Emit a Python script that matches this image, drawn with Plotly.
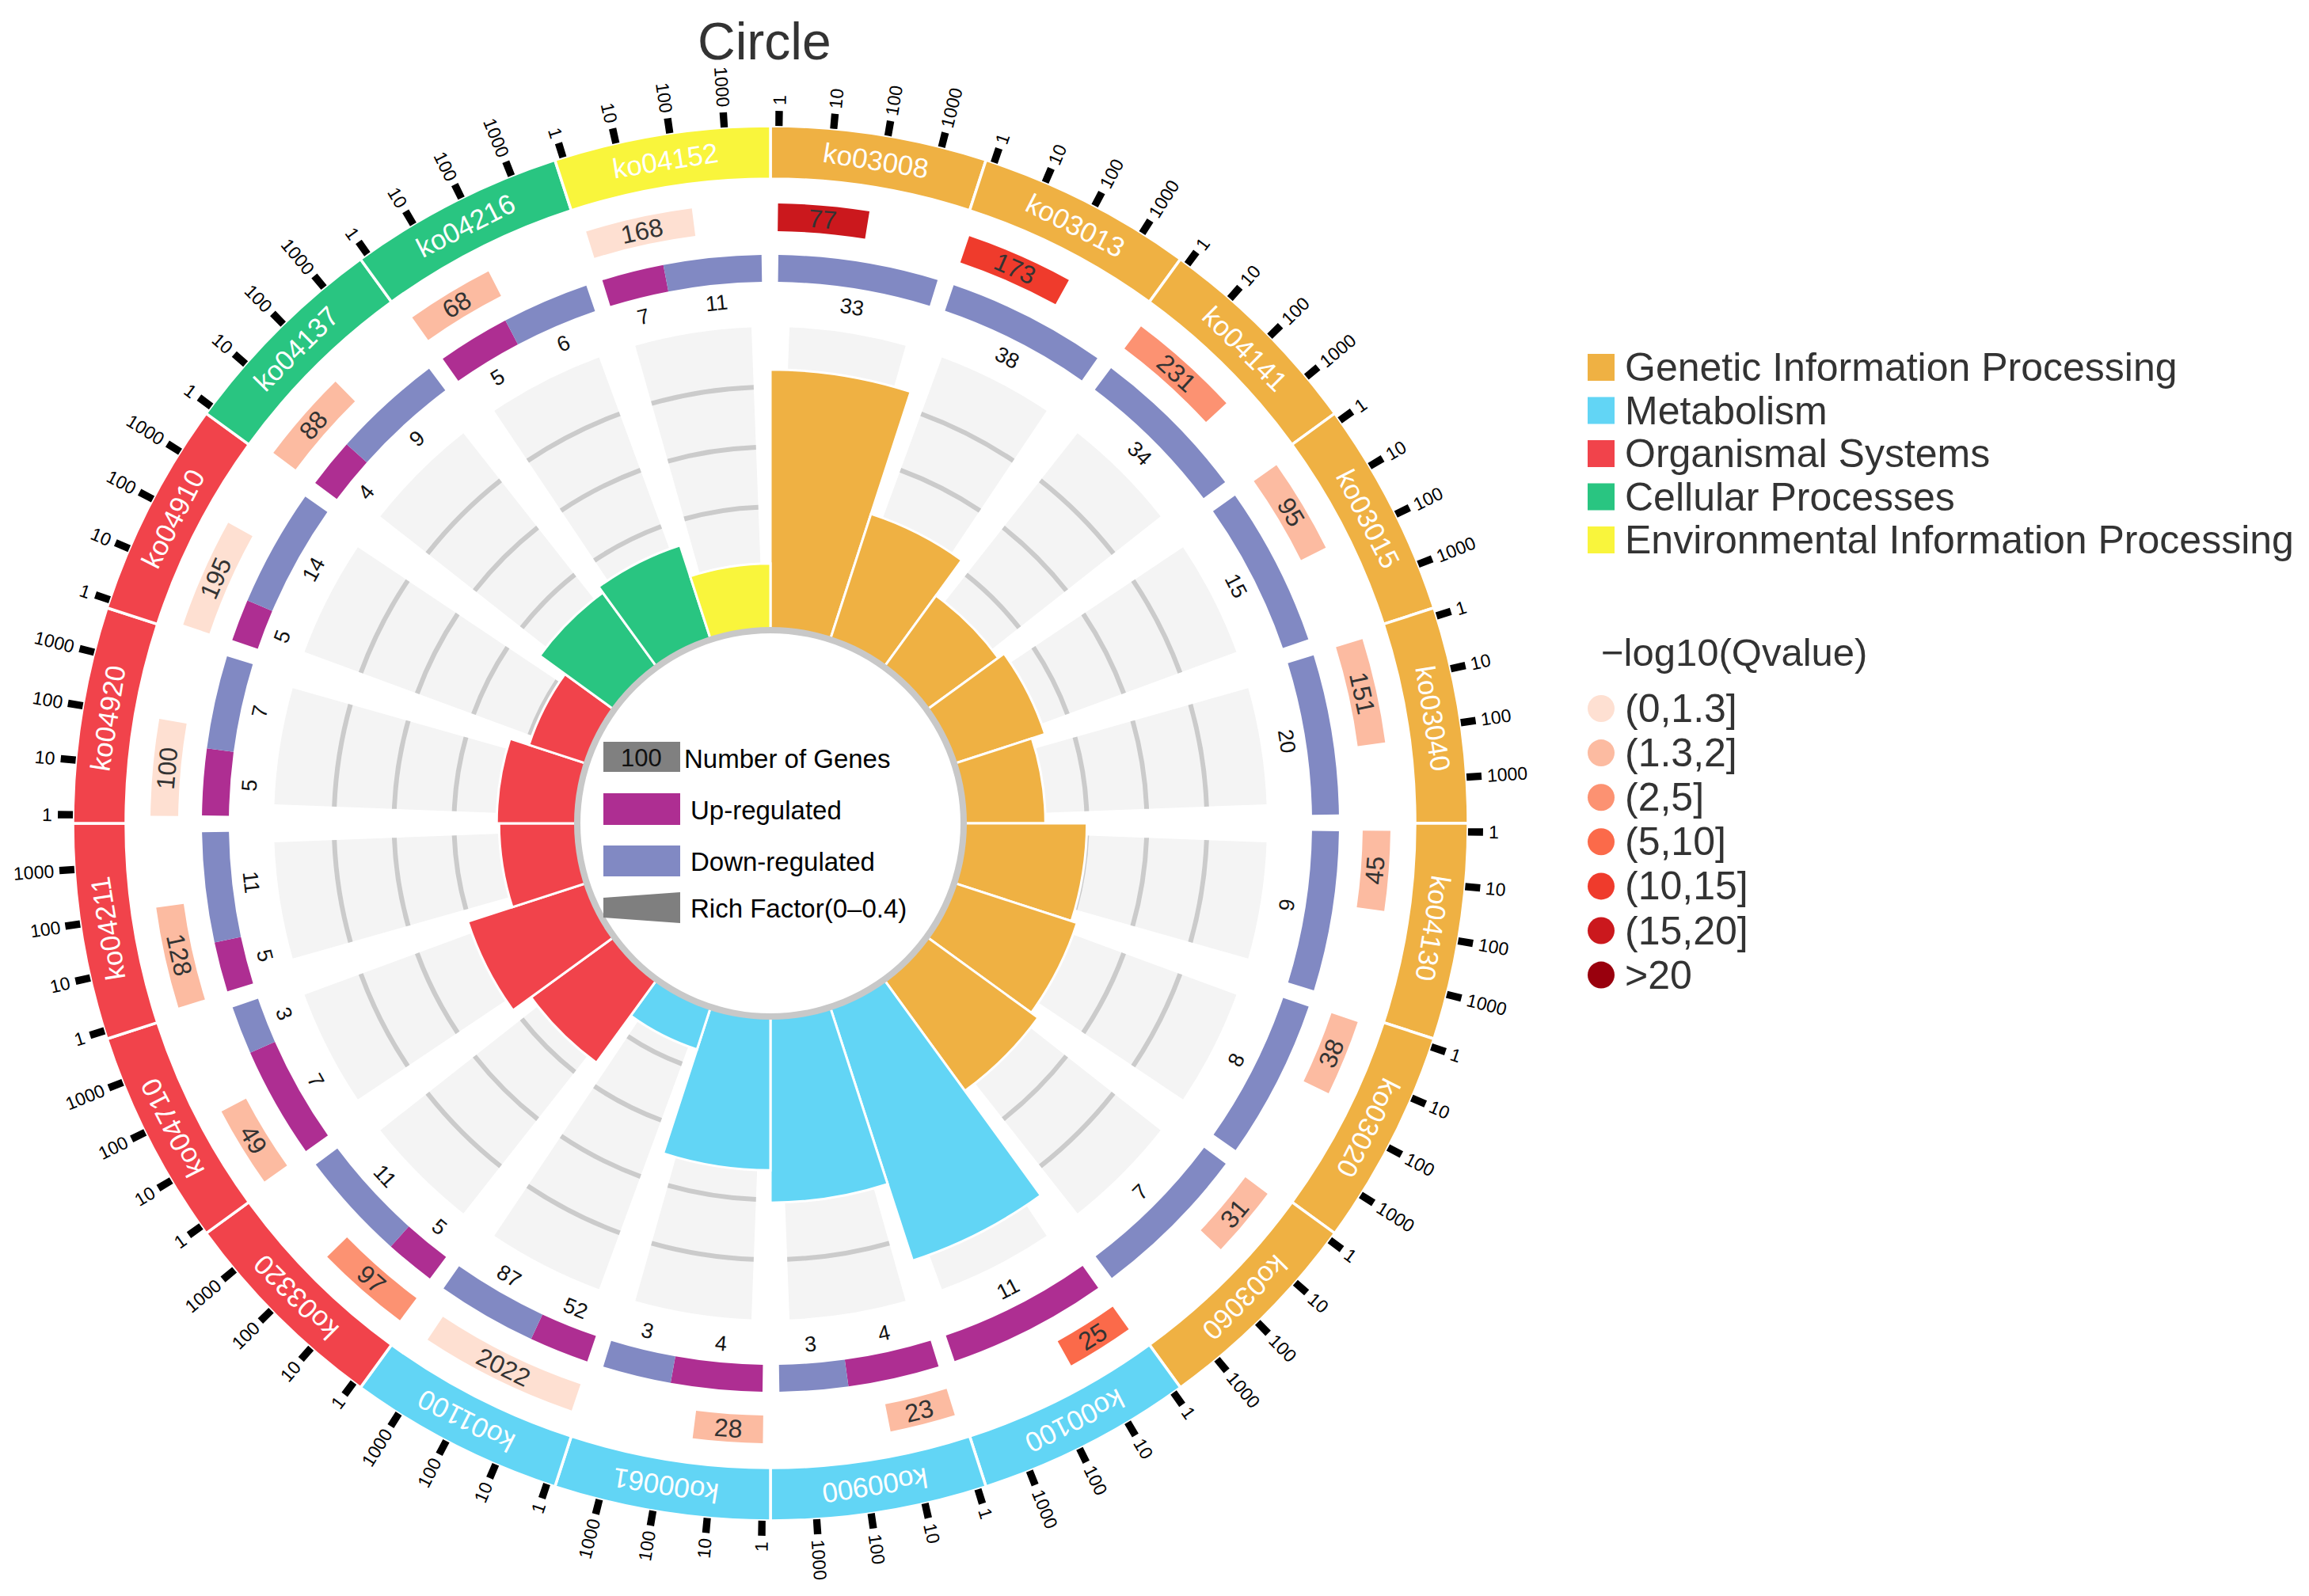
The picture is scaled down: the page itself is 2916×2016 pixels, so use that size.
import numpy as np
import plotly.graph_objects as go

# ---- data ----
KO = ["ko03008", "ko03013", "ko04141", "ko03015", "ko03040", "ko04130", "ko03020", "ko03060",
      "ko00100", "ko00900", "ko00061", "ko01100",
      "ko03320", "ko04710", "ko04211", "ko04920", "ko04910",
      "ko04137", "ko04216", "ko04152"]
CATEGORY = ["Genetic Information Processing"] * 8 + ["Metabolism"] * 4 + \
           ["Organismal Systems"] * 5 + ["Cellular Processes"] * 2 + \
           ["Environmental Information Processing"]
GENES = [77, 173, 231, 95, 151, 45, 38, 31, 25, 23, 28, 2022, 97, 49, 128, 100, 195, 88, 68, 168]
QBIN = ["(15,20]", "(10,15]", "(2,5]", "(1.3,2]", "(1.3,2]", "(1.3,2]", "(1.3,2]", "(1.3,2]",
        "(5,10]", "(1.3,2]", "(1.3,2]", "(0,1.3]",
        "(2,5]", "(1.3,2]", "(1.3,2]", "(0,1.3]", "(0,1.3]",
        "(1.3,2]", "(1.3,2]", "(0,1.3]"]
UP = [0, 0, 0, 0, 0, 0, 0, 0, 11, 4, 4, 52, 5, 7, 5, 5, 5, 4, 5, 7]
DOWN = [33, 38, 34, 15, 20, 9, 8, 7, 0, 3, 3, 87, 11, 3, 11, 7, 14, 9, 6, 11]
RICH = [0.429, 0.215, 0.142, 0.154, 0.131, 0.200, 0.210, 0.224,
        0.439, 0.305, 0.251, 0.069,
        0.166, 0.203, 0.125, 0.129, 0.096,
        0.148, 0.160, 0.106]

CAT_NAMES = ["Genetic Information Processing", "Metabolism", "Organismal Systems",
             "Cellular Processes", "Environmental Information Processing"]
CAT_COLORS = ["#EFB143", "#62D5F5", "#F1434B", "#29C581", "#F9F53C"]
QBINS = ["(0,1.3]", "(1.3,2]", "(2,5]", "(5,10]", "(10,15]", "(15,20]", ">20"]
QCOLORS = ["#FEE0D2", "#FCBBA1", "#FC9272", "#FB6A4A", "#EF3B2C", "#CB181D", "#99000D"]
TICKS = [1, 10, 100, 1000]
RICH_GRID = [0.1, 0.2, 0.3, 0.4]
UP_COLOR, DOWN_COLOR = "#AE2E92", "#8189C3"

# ---- geometry (page pixels) ----
W, H = 2916, 2016
OFF = 8  # default body margin of the html page
CX, CY, RMAX = 973, 1040, 940
SECTOR = 360 / len(KO)
R_CORE, RF_PX, RF_TOP = 248, 758, 0.5
UD_IN, UD_OUT = 684, 718
Q_IN, Q_OUT = 748, 783
KO_IN, KO_OUT = 814, 881
TICK_LEN, TICK_W = 19, 0.6
LOG0, DECADE = 0.7, 4.5
UD0, UD1 = 0.8, 17.1
BG_PAD = 2.2
FONT = "Liberation Sans, Arial, sans-serif"

cat_color = dict(zip(CAT_NAMES, CAT_COLORS))
q_color = dict(zip(QBINS, QCOLORS))
starts = np.arange(len(KO)) * SECTOR


def xy(r, theta):
    t = np.radians(theta)
    return CX + r * np.sin(t), CY - r * np.cos(t)


def tangent_angle(theta):
    a = theta % 360
    if 90 < a < 270:
        a -= 180
    elif a >= 270:
        a -= 360
    return a


def radial_angle(theta):
    a = (theta + 90) % 360
    if a > 180:
        a -= 360
    if a > 90:
        a -= 180
    elif a <= -90:
        a += 180
    return a


annotations = []


def label(x, y, text, size, color, angle=0, xanchor="center"):
    annotations.append(dict(x=x, y=y, xref="x", yref="y", text=text, showarrow=False,
                            textangle=angle, xanchor=xanchor, yanchor="middle",
                            font=dict(size=size, color=color, family=FONT)))


def ring(theta, width, base, length, color, line_w=0, line_c="white"):
    return go.Barpolar(theta=theta, width=width, base=base, r=length,
                       marker=dict(color=color, line=dict(color=line_c, width=line_w)),
                       hoverinfo="skip", showlegend=False)


traces = []
n = len(KO)
centers = starts + SECTOR / 2
bg_w = SECTOR - 2 * BG_PAD

# rich factor background + grid
traces.append(ring(centers, [bg_w] * n, [R_CORE - 8] * n, [RF_TOP * RF_PX + 8] * n, "#F4F4F4"))
for g in RICH_GRID:
    traces.append(ring(centers, [bg_w] * n, [R_CORE + g * RF_PX - 3] * n, [6] * n, "#CBCBCB"))

# rich factor bars
traces.append(ring(centers, [SECTOR] * n, [R_CORE - 8] * n,
                   [rf * RF_PX + 8 for rf in RICH], [cat_color[c] for c in CATEGORY], 3))

# inner circle border
traces.append(ring([0], [360], [R_CORE - 8], [8], "#C8C8C8"))

# up / down regulated ring
ud_theta, ud_w, ud_col = [], [], []
for s, u, d in zip(starts, UP, DOWN):
    span = UD1 - UD0
    wu = span * u / (u + d)
    wd = span - wu
    for val, w0, off, col in ((u, wu, 0, UP_COLOR), (d, wd, wu, DOWN_COLOR)):
        if val == 0:
            continue
        th = s + UD0 + off + w0 / 2
        ud_theta.append(th)
        ud_w.append(w0)
        ud_col.append(col)
        x, y = xy(660, th)
        label(x, y, str(val), 27, "#111111", tangent_angle(th))
traces.append(ring(ud_theta, ud_w, [UD_IN] * len(ud_theta), [UD_OUT - UD_IN] * len(ud_theta), ud_col))

# number of genes ring (log scale), coloured by -log10(Qvalue)
q_theta, q_w = [], []
for s, g in zip(starts, GENES):
    length = DECADE * np.log10(g)
    th = s + LOG0 + length / 2
    q_theta.append(th)
    q_w.append(length)
    x, y = xy((Q_IN + Q_OUT) / 2, th)
    label(x, y, str(g), 32, "#333333", tangent_angle(th))
traces.append(ring(q_theta, q_w, [Q_IN] * n, [Q_OUT - Q_IN] * n, [q_color[q] for q in QBIN]))

# outer category band with pathway ids
traces.append(ring(centers, [SECTOR] * n, [KO_IN] * n, [KO_OUT - KO_IN] * n,
                   [cat_color[c] for c in CATEGORY], 3.5))
for s, ko in zip(starts, KO):
    th = s + SECTOR / 2
    x, y = xy((KO_IN + KO_OUT) / 2, th)
    a = th if th <= 180 else th - 360
    label(x, y, ko, 35, "white", a)

# log axis ticks
tk_theta = []
for s in starts:
    for t in TICKS:
        th = s + LOG0 + DECADE * np.log10(t)
        tk_theta.append(th)
        txt = str(t)
        rc = KO_OUT + TICK_LEN + 7 + len(txt) * 0.556 * 23 / 2
        x, y = xy(rc, th)
        label(x, y, txt, 23, "#000000", radial_angle(th))
traces.append(ring(tk_theta, [TICK_W] * len(tk_theta), [KO_OUT] * len(tk_theta),
                   [TICK_LEN] * len(tk_theta), "#000000"))

# ---- legends (page pixel positions on an overlay axis) ----
LEG_X, LEG_TX = 2022, 2050
cat_y = [464 + i * 54.5 for i in range(len(CAT_NAMES))]
traces.append(go.Scatter(x=[LEG_X] * len(CAT_NAMES), y=cat_y, mode="markers",
                         marker=dict(symbol="square", size=34, color=CAT_COLORS),
                         hoverinfo="skip", showlegend=False, xaxis="x", yaxis="y"))
for name, y in zip(CAT_NAMES, cat_y):
    label(LEG_TX, y, name, 50, "#333333", xanchor="left")

label(2020, 824, "\u2212log10(Qvalue)", 49, "#333333", xanchor="left")
q_y = [895 + i * 56.1 for i in range(len(QBINS))]
traces.append(go.Scatter(x=[LEG_X] * len(QBINS), y=q_y, mode="markers",
                         marker=dict(symbol="circle", size=34, color=QCOLORS),
                         hoverinfo="skip", showlegend=False, xaxis="x", yaxis="y"))
for name, y in zip(QBINS, q_y):
    label(LEG_TX, y, name, 50, "#333333", xanchor="left")

# legend inside the circle
shapes = [
    dict(type="rect", x0=762, x1=859, y0=937, y1=975, fillcolor="#808080", line_width=0),
    dict(type="rect", x0=762, x1=859, y0=1002, y1=1042, fillcolor=UP_COLOR, line_width=0),
    dict(type="rect", x0=762, x1=859, y0=1068, y1=1107, fillcolor=DOWN_COLOR, line_width=0),
    dict(type="path", path="M 762 1134 L 859 1127 L 859 1166 L 762 1159 Z",
         fillcolor="#7F7F7F", line_width=0),
]
for sh in shapes:
    sh.update(xref="x", yref="y", layer="above")
label(810, 957, "100", 31, "#111111")
label(862, 958, "Number of Genes", 33, "#000000", xanchor="left")
label(870, 1023, "Up-regulated", 33, "#000000", xanchor="left")
label(870, 1088, "Down-regulated", 33, "#000000", xanchor="left")
label(870, 1147, "Rich Factor(0\u20130.4)", 33, "#000000", xanchor="left")

label(965, 52, "Circle", 66, "#333333")

fig = go.Figure(data=traces)
fig.update_layout(
    width=W, height=H, margin=dict(l=0, r=0, t=0, b=0),
    paper_bgcolor="white", plot_bgcolor="rgba(0,0,0,0)",
    showlegend=False,
    polar=dict(
        domain=dict(x=[(CX - OFF - RMAX) / W, (CX - OFF + RMAX) / W],
                    y=[1 - (CY - OFF + RMAX) / H, 1 - (CY - OFF - RMAX) / H]),
        bgcolor="rgba(0,0,0,0)", barmode="overlay", hole=0,
        angularaxis=dict(direction="clockwise", rotation=90, visible=False,
                         showgrid=False, showline=False, showticklabels=False, ticks=""),
        radialaxis=dict(range=[0, RMAX], visible=False, showgrid=False,
                        showline=False, showticklabels=False, ticks=""),
    ),
    xaxis=dict(range=[OFF, W + OFF], domain=[0, 1], visible=False, fixedrange=True),
    yaxis=dict(range=[H + OFF, OFF], domain=[0, 1], visible=False, fixedrange=True),
    annotations=annotations,
    shapes=shapes,
)
fig.write_html("out.html")
